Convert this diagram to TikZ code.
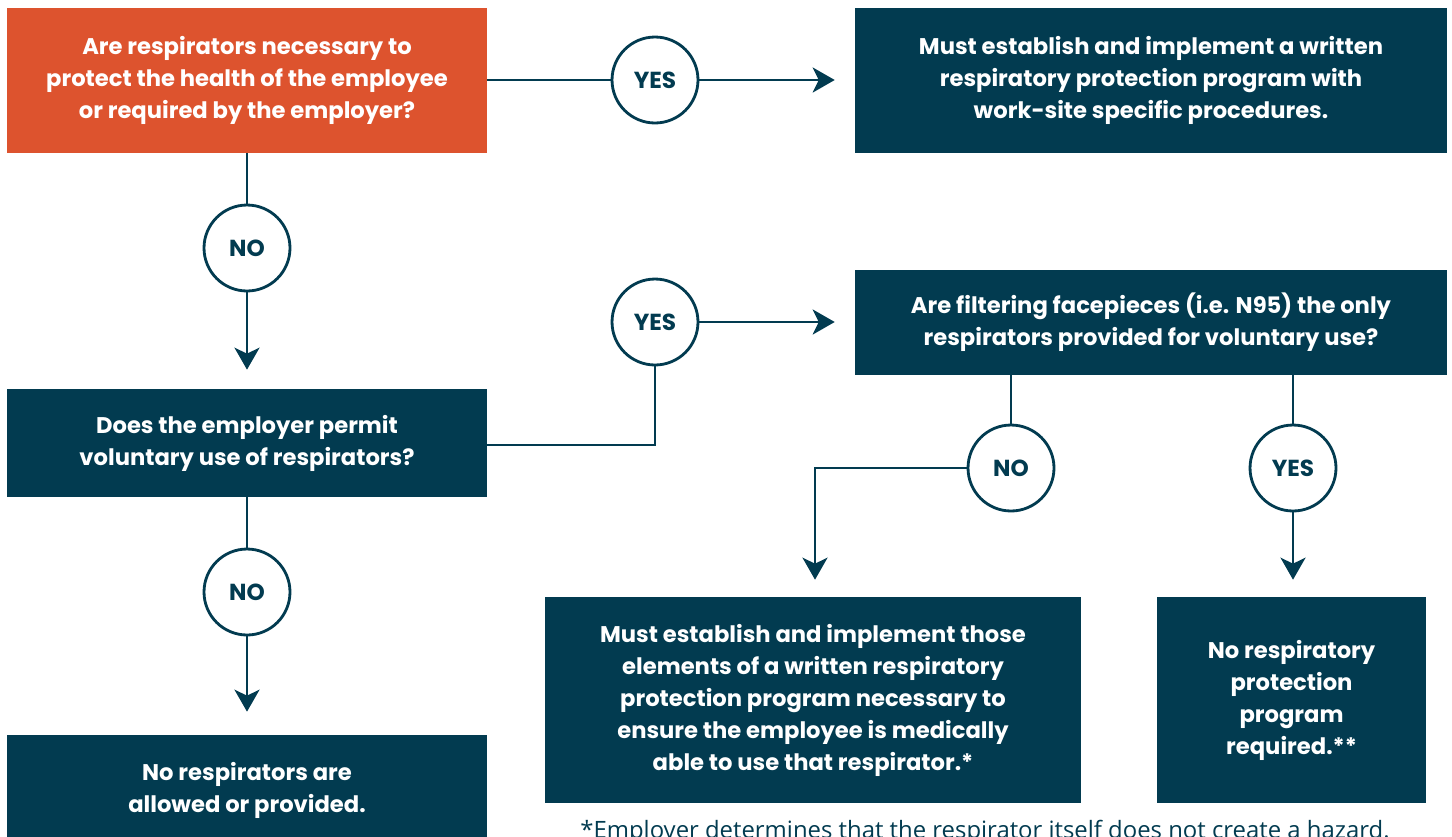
\documentclass[tikz,border=0pt]{standalone}
\usepackage{fontspec}
\setmainfont{Poppins}
\newfontfamily\notefont{Open Sans}
\usetikzlibrary{arrows.meta, positioning, calc}

\definecolor{teal}{HTML}{023B50}
\definecolor{rust}{HTML}{DD532E}

\tikzset{
  box/.style={rectangle, fill=teal, text=white, align=center, inner sep=0pt,
    font=\fontsize{12.9}{18.2}\selectfont\bfseries},
  ans/.style={circle, draw=teal, line width=1.6pt, fill=white, text=teal,
    minimum size=1.72cm, inner sep=0pt, font=\fontsize{13.2}{15}\selectfont\bfseries},
  link/.style={draw=teal, line width=1.6pt},
  arr/.style={link, -{Stealth[length=0.44cm, width=0.5cm, inset=0.12cm]}}
}

\begin{document}
\begin{tikzpicture}[x=0.02cm, y=-0.02cm]
    \useasboundingbox (0,0) rectangle (1452,836);
    % boxes
    \node[box, fill=rust, minimum width=9.6cm, minimum height=2.9cm] (resp) at (247,80.5)
        {Are respirators necessary to\\protect the health of the employee\\or required by the employer?};
    \node[box, minimum width=11.84cm, minimum height=2.9cm] (program) at (1151,80.5)
        {Must establish and implement a written\\respiratory protection program with\\work-site specific procedures.};
    \node[box, minimum width=9.6cm, minimum height=2.16cm] (permit) at (247,443)
        {Does the employer permit\\voluntary use of respirators?};
    \node[box, minimum width=11.84cm, minimum height=2.1cm] (filter) at (1151,322.5)
        {Are filtering facepieces (i.e. N95) the only\\respirators provided for voluntary use?};
    \node[box, minimum width=10.72cm, minimum height=4.12cm] (elements) at (813,700)
        {Must establish and implement those\\elements of a written respiratory\\protection program necessary to\\ensure the employee is medically\\able to use that respirator.*};
    \node[box, minimum width=5.38cm, minimum height=4.12cm] (noprog) at (1291.5,700)
        {No respiratory\\protection\\program\\required.**};
    \node[box, minimum width=9.6cm, minimum height=2.2cm] (none) at (247,790)
        {No respirators are\\allowed or provided.};
    \node[text=teal, font=\notefont\fontsize{13.6}{15}\selectfont] (note) at (985,832)
        {*Employer determines that the respirator itself does not create a hazard.};

    % answers
    \node[ans] (yes1) at (655,80) {YES};
    \node[ans] (no1) at (247,248) {NO};
    \node[ans] (yes2) at (655,322) {YES};
    \node[ans] (no2) at (247,592) {NO};
    \node[ans] (no3) at (1011,468) {NO};
    \node[ans] (yes3) at (1293,468) {YES};

    % connectors
    \draw[link] (resp.east |- yes1) -- (yes1);
    \draw[arr, shorten >=0.4cm] (yes1) -- (program.west |- yes1);
    \draw[link] (resp) -- (no1);
    \draw[arr, shorten >=0.38cm] (no1) -- (permit.north);
    \draw[link] ($(permit.east)+(0,2)$) -| (yes2);
    \draw[arr, shorten >=0.4cm] (yes2) -- (filter.west |- yes2);
    \draw[link] (permit) -- (no2);
    \draw[arr, shorten >=0.46cm] (no2) -- (none.north);
    \draw[link] (no3 |- filter.south) -- (no3);
    \draw[arr, shorten >=0.34cm] (no3.west) -| ($(elements.north)+(2,0)$);
    \draw[link] (yes3 |- filter.south) -- (yes3);
    \draw[arr, shorten >=0.34cm] (yes3) -- (yes3 |- noprog.north);
\end{tikzpicture}
\end{document}
